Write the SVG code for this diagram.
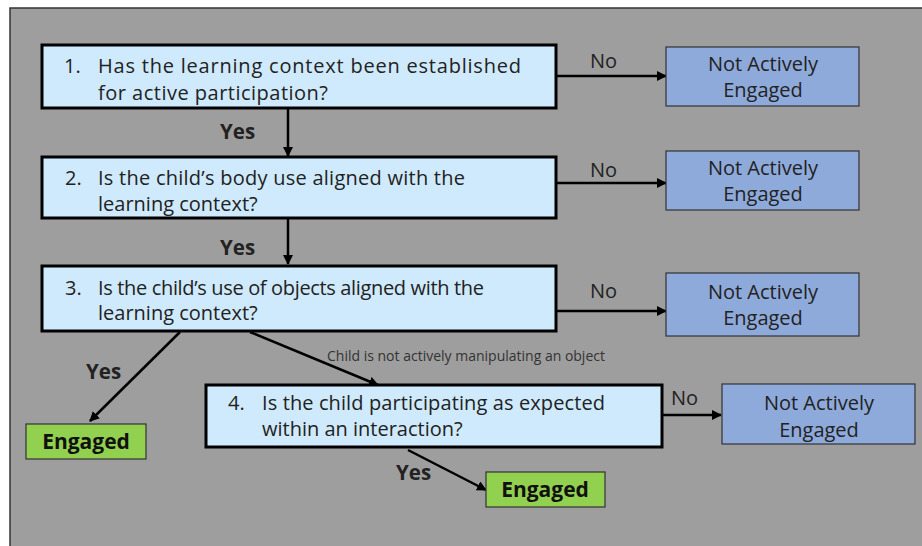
<svg xmlns="http://www.w3.org/2000/svg" width="922" height="546" viewBox="0 0 922 546">
<style>
.q{fill:#cfeafc;stroke:#000;stroke-width:3}
.nae{fill:#8eaadb;stroke:#333;stroke-width:1.2}
.eng{fill:#92d050;stroke:#333;stroke-width:1.2}
.t{font-family:"Open Sans",Lato,sans-serif;font-size:20px;fill:#222}
.n{font-family:"Open Sans",Lato,sans-serif;font-size:20px;fill:#222;text-anchor:middle}
.b{font-family:"Open Sans",Lato,sans-serif;font-size:21px;font-weight:bold;fill:#111;text-anchor:middle}
.lbl{font-family:"Open Sans",Lato,sans-serif;font-size:20px;fill:#222}
.yes{font-family:"Open Sans",Lato,sans-serif;font-size:20.5px;font-weight:bold;fill:#222}
.small{font-family:"Open Sans",Lato,sans-serif;font-size:14px;fill:#333}
.c{stroke:#000;stroke-width:2.5;fill:none;marker-end:url(#ah)}
</style>
<defs>
<marker id="ah" viewBox="0 0 10 10" refX="9" refY="5" markerWidth="4" markerHeight="4" orient="auto" markerUnits="strokeWidth">
<path d="M0,0 L10,5 L0,10 z" fill="#000"/>
</marker>
</defs>
<rect x="0" y="0" width="922" height="546" fill="#fff"/>
<rect x="10" y="8" width="920" height="550" fill="#9e9e9e" stroke="#333" stroke-width="1.5"/>

<g id="connectors">
<line class="c" x1="556" y1="76" x2="666" y2="76"/>
<line class="c" x1="288" y1="108" x2="288" y2="156"/>
<line class="c" x1="556" y1="183" x2="666" y2="183"/>
<line class="c" x1="288" y1="218" x2="288" y2="264"/>
<line class="c" x1="556" y1="311" x2="666" y2="311"/>
<line class="c" x1="180" y1="332" x2="90" y2="421"/>
<line class="c" x1="250" y1="332" x2="378" y2="385"/>
<line class="c" x1="662" y1="415" x2="721" y2="415"/>
<line class="c" x1="408" y1="450" x2="486" y2="490"/>
<text class="lbl" x="590" y="68">No</text>
<text class="lbl" x="590" y="177">No</text>
<text class="lbl" x="590" y="298">No</text>
<text class="lbl" x="671" y="405">No</text>
<text class="yes" x="220" y="139">Yes</text>
<text class="yes" x="220" y="255">Yes</text>
<text class="yes" x="86" y="379">Yes</text>
<text class="yes" x="396" y="480">Yes</text>
<text class="small" x="327" y="361">Child is not actively manipulating an object</text>
</g>

<g id="q1">
<rect class="q" x="42" y="45" width="514" height="63"/>
<text class="t" x="64" y="73">1.</text>
<text class="t" x="98" y="73" textLength="423">Has the learning context been established</text>
<text class="t" x="98" y="100" textLength="230">for active participation?</text>
</g>
<g id="nae1">
<rect class="nae" x="666" y="47" width="193" height="59"/>
<text class="n" x="763" y="71">Not Actively</text>
<text class="n" x="763" y="97">Engaged</text>
</g>

<g id="q2">
<rect class="q" x="42" y="157" width="514" height="61"/>
<text class="t" x="65" y="185">2.</text>
<text class="t" x="98" y="185" textLength="367">Is the child’s body use aligned with the</text>
<text class="t" x="98" y="211">learning context?</text>
</g>
<g id="nae2">
<rect class="nae" x="666" y="151" width="193" height="59"/>
<text class="n" x="763" y="175">Not Actively</text>
<text class="n" x="763" y="201">Engaged</text>
</g>

<g id="q3">
<rect class="q" x="42" y="266" width="514" height="65"/>
<text class="t" x="65" y="295">3.</text>
<text class="t" x="98" y="295" textLength="386">Is the child’s use of objects aligned with the</text>
<text class="t" x="98" y="320">learning context?</text>
</g>
<g id="nae3">
<rect class="nae" x="666" y="273" width="193" height="63"/>
<text class="n" x="763" y="299">Not Actively</text>
<text class="n" x="763" y="325">Engaged</text>
</g>

<g id="eng1">
<rect class="eng" x="26" y="424" width="120" height="35"/>
<text class="b" x="86" y="449">Engaged</text>
</g>

<g id="q4">
<rect class="q" x="206" y="385" width="456" height="62"/>
<text class="t" x="228" y="410">4.</text>
<text class="t" x="262" y="410" textLength="343">Is the child participating as expected</text>
<text class="t" x="262" y="436">within an interaction?</text>
</g>
<g id="nae4">
<rect class="nae" x="722" y="384" width="193" height="60"/>
<text class="n" x="819" y="410">Not Actively</text>
<text class="n" x="819" y="437">Engaged</text>
</g>

<g id="eng2">
<rect class="eng" x="486" y="472" width="119" height="35"/>
<text class="b" x="545" y="497">Engaged</text>
</g>
</svg>
